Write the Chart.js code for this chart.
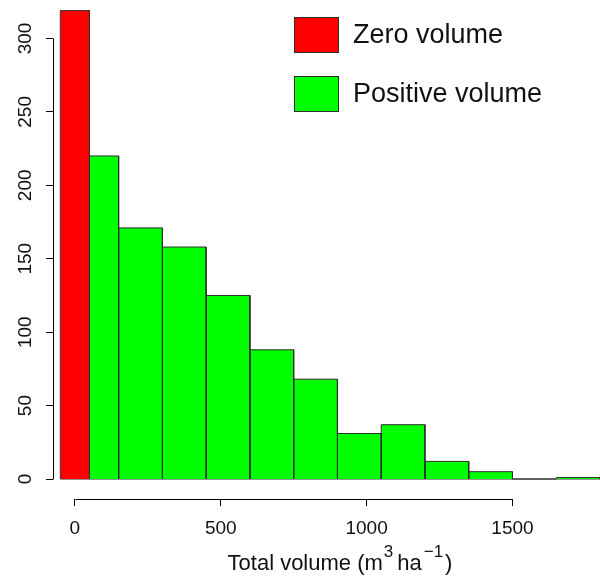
<!DOCTYPE html>
<html>
<head>
<meta charset="utf-8">
<style>
  body { margin: 0; background: #fff; }
  canvas { display: block; }
</style>
<script src="https://cdn.jsdelivr.net/npm/chart.js@4.4.1/dist/chart.umd.min.js"></script>
</head>
<body>
<canvas id="histChart" width="600" height="577"></canvas>
<script>
// Histogram bins (m3/ha) and counts
const zeroBreaks = [-50, 50];
const zeroCounts = [319];
const posBreaks = [50, 150, 300, 450, 600, 750, 900, 1050, 1200, 1350, 1500, 1650, 1800];
const posCounts = [220, 171, 158, 125, 88, 68, 31, 37, 12, 5, 0, 1];

const xTicks = [0, 500, 1000, 1500];
const yTicks = [0, 50, 100, 150, 200, 250, 300];
const legendLabels = ["Zero volume", "Positive volume"];
const legendColors = ["#ff0000", "#00ff00"];

const FONT = "'Liberation Sans', Arial, sans-serif";
const EDGE = "#2e2e2e";

// one rectangle per bin, drawn as a line filled down to zero
function binShape(x0, x1, h) {
  return [
    { x: x0, y: 0 },
    { x: x0, y: h },
    { x: x1, y: h },
    { x: x1, y: 0 },
  ];
}

function binDatasets(breaks, counts, color) {
  return counts.map((c, i) => ({
    data: binShape(breaks[i], breaks[i + 1], c),
    backgroundColor: color,
    borderColor: EDGE,
    borderWidth: 1,
    pointRadius: 0,
    tension: 0,
    fill: "origin",
  }));
}

// bottom edge shared by all the bins
const baseline = {
  data: [
    { x: zeroBreaks[0], y: 0 },
    { x: posBreaks[posBreaks.length - 1], y: 0 },
  ],
  borderColor: EDGE,
  borderWidth: 1,
  pointRadius: 0,
  fill: false,
};

// R-style axis lines that only run from first to last tick, plus legend and x title
const rDecor = {
  id: "rDecor",
  afterDraw(chart) {
    const { ctx, chartArea, scales } = chart;
    const xs = scales.x, ys = scales.y;
    ctx.save();
    ctx.strokeStyle = "#000";
    ctx.lineWidth = 1;
    ctx.beginPath();
    const ax = Math.round(chartArea.left) + 0.5;
    ctx.moveTo(ax, Math.round(ys.getPixelForValue(yTicks[0])) + 0.5);
    ctx.lineTo(ax, Math.round(ys.getPixelForValue(yTicks[yTicks.length - 1])) + 0.5);
    const ay = Math.round(chartArea.bottom) + 0.5;
    ctx.moveTo(Math.round(xs.getPixelForValue(xTicks[0])) + 0.5, ay);
    ctx.lineTo(Math.round(xs.getPixelForValue(xTicks[xTicks.length - 1])) + 0.5, ay);
    ctx.stroke();

    // legend
    ctx.font = "27px " + FONT;
    ctx.textBaseline = "alphabetic";
    ctx.textAlign = "left";
    legendLabels.forEach((lab, i) => {
      const top = 17 + i * 59;
      ctx.fillStyle = legendColors[i];
      ctx.fillRect(294, top, 45, 36);
      ctx.strokeStyle = EDGE;
      ctx.strokeRect(294.5, top + 0.5, 44, 35);
      ctx.fillStyle = "#111";
      ctx.fillText(lab, 353, 43 + i * 59);
    });

    // x axis title with superscripts (R plotmath style)
    const parts = [
      { t: "Total volume (m", sup: false, gap: 1 },
      { t: "3", sup: true, gap: 4 },
      { t: "ha", sup: false, gap: 2 },
      { t: "\u22121", sup: true, gap: 2 },
      { t: ")", sup: false, gap: 0 },
    ];
    const bigF = "22px " + FONT, smallF = "17px " + FONT;
    let total = 0;
    parts.forEach((p) => {
      ctx.font = p.sup ? smallF : bigF;
      p.w = ctx.measureText(p.t).width;
      total += p.w + p.gap;
    });
    let x = 340 - total / 2;
    const base = 570;
    ctx.fillStyle = "#111";
    parts.forEach((p) => {
      ctx.font = p.sup ? smallF : bigF;
      ctx.fillText(p.t, x, p.sup ? base - 13 : base);
      x += p.w + p.gap;
    });
    ctx.restore();
  },
};

const ctx = document.getElementById("histChart").getContext("2d");
const chart = new Chart(ctx, {
  type: "line",
  data: {
    datasets: [
      ...binDatasets(zeroBreaks, zeroCounts, legendColors[0]),
      ...binDatasets(posBreaks, posCounts, legendColors[1]),
      baseline,
    ],
  },
  options: {
    responsive: false,
    animation: false,
    layout: { padding: 0 },
    plugins: {
      legend: { display: false },
      tooltip: { enabled: false },
    },
    scales: {
      x: {
        type: "linear",
        min: -75,
        max: 1800,
        afterBuildTicks: (s) => {
          s.ticks = xTicks.map((v) => ({ value: v }));
        },
        afterFit: (s) => {
          s.height = 78;
          s.paddingLeft = s.paddingRight = s.paddingTop = s.paddingBottom = 0;
        },
        border: { display: false },
        grid: {
          drawOnChartArea: false,
          drawTicks: true,
          tickLength: 7,
          color: "#000",
        },
        ticks: {
          autoSkip: false,
          maxRotation: 0,
          padding: 11,
          color: "#111",
          font: { family: FONT, size: 19 },
          callback: (v) => String(v),
        },
      },
      y: {
        type: "linear",
        min: -13.6,
        max: 326.2,
        afterBuildTicks: (s) => {
          s.ticks = yTicks.map((v) => ({ value: v }));
        },
        afterFit: (s) => {
          s.width = 53;
          s.paddingLeft = s.paddingRight = s.paddingTop = s.paddingBottom = 0;
        },
        border: { display: false },
        grid: {
          drawOnChartArea: false,
          drawTicks: true,
          tickLength: 7,
          color: "#000",
        },
        ticks: {
          minRotation: 90,
          maxRotation: 90,
          crossAlign: "center",
          padding: 4,
          color: "#111",
          font: { family: FONT, size: 19 },
          callback: (v) => String(v),
        },
      },
    },
  },
  plugins: [rDecor],
});
</script>
</body>
</html>
